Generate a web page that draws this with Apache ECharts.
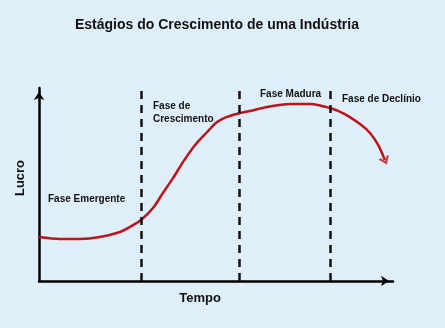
<!DOCTYPE html>
<html><head><meta charset="utf-8">
<script src="https://cdn.jsdelivr.net/npm/echarts@6/dist/echarts.min.js"></script>
<style>html,body{margin:0;padding:0;background:#dfeff9;}#c{width:445px;height:328px;}</style>
</head><body><div id="c"></div>
<script>
// Curve: time (0-100) vs profit (0-100)
const curveX = [0, 5.9, 11.6, 17.2, 22.9, 25.7, 28.8, 32.2, 35.0, 37.9, 40.7, 44.1, 47.5, 50.3, 53.1, 56.8, 59.6, 64.4, 70.9, 76.6, 82.2, 86.4, 90.7, 93.5, 95.8, 97.7];
const curveY = [22.8, 21.8, 21.8, 22.8, 25.4, 28.0, 31.6, 37.8, 45.6, 53.4, 61.7, 70.5, 77.2, 82.4, 85.0, 87.0, 88.1, 90.2, 91.7, 91.7, 89.6, 86.5, 81.3, 76.7, 70.5, 62.7];
const phaseBounds = [28.8, 56.5, 82.2];
const phaseLabels = ['Fase Emergente', 'Fase de\nCrescimento', 'Fase Madura', 'Fase de Declínio'];
const titleText = 'Estágios do Crescimento de uma Indústria';
const xName = 'Tempo';
const yName = 'Lucro';

const FONT = '"Liberation Sans", Arial, sans-serif';
const RED = '#bf1219';
const chart = echarts.init(document.getElementById('c'), null, {renderer: 'canvas'});
const curve = curveX.map((x, i) => [x, curveY[i]]);

const txt = (x, y, t, size, align) => ({
  type: 'text', x: x, y: y,
  style: {text: t, font: 'bold ' + size + 'px ' + FONT, fill: '#111', align: align || 'left', verticalAlign: 'middle', lineHeight: 13}
});
const axisLine = {show: true, onZero: false, lineStyle: {color: '#000', width: 2.5}, symbol: ['none', 'arrow'], symbolSize: [8, 8], symbolOffset: [0, -4]};

const option = {
  backgroundColor: '#dfeff9',
  animation: false,
  title: {text: titleText, left: 75, top: 18, padding: 0, textStyle: {fontFamily: FONT, fontSize: 14, fontWeight: 'bold', color: '#111'}},
  grid: {left: 39, right: 52, top: 88, bottom: 47},
  xAxis: {type: 'value', min: 0, max: 100, splitLine: {show: false}, axisTick: {show: false}, axisLabel: {show: false}, axisLine: axisLine},
  yAxis: {type: 'value', min: 0, max: 100, splitLine: {show: false}, axisTick: {show: false}, axisLabel: {show: false}, axisLine: axisLine},
  graphic: [
    txt(48, 199, phaseLabels[0], 10),
    txt(153, 112.5, phaseLabels[1], 10),
    txt(260, 94, phaseLabels[2], 10),
    txt(342, 99, phaseLabels[3], 10),
    txt(200, 298, xName, 13, 'center'),
    {type: 'text', x: 20, y: 178, rotation: Math.PI / 2,
      style: {text: yName, font: 'bold 13px ' + FONT, fill: '#111', align: 'center', verticalAlign: 'middle'}}
  ],
  series: [
    {type: 'line', data: curve, smooth: 0.3, symbol: 'none', clip: false,
      lineStyle: {color: RED, width: 2.5},
      markLine: {silent: true, symbol: 'none', label: {show: false},
        lineStyle: {color: '#111', width: 2.5, type: [8, 6]},
        data: phaseBounds.map(b => [{coord: [b, 0]}, {coord: [b, 100]}])}},
    {type: 'scatter', data: [curve[curve.length - 1]], symbol: 'path://M0,0L5,6L10,0', symbolSize: [9, 6],
      itemStyle: {color: 'none', borderColor: RED, borderWidth: 2}, z: 5}
  ]
};
chart.setOption(option);
const p1 = chart.convertToPixel({gridIndex: 0}, curve[curve.length - 2]);
const p2 = chart.convertToPixel({gridIndex: 0}, curve[curve.length - 1]);
const rot = Math.atan2(p2[0] - p1[0], p2[1] - p1[1]) * 180 / Math.PI;
chart.setOption({series: [{}, {symbolRotate: rot}]});
</script></body></html>
